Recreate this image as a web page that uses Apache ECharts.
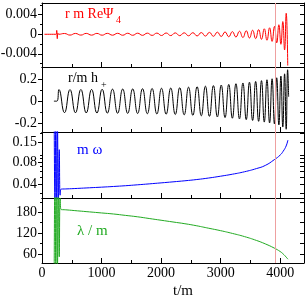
<!DOCTYPE html>
<html><head><meta charset="utf-8">
<script src="https://cdn.jsdelivr.net/npm/echarts@6/dist/echarts.min.js"></script>
<style>html,body{margin:0;padding:0;background:#fff}#c{width:306px;height:299px}</style>
</head><body><div id="c"></div>
<script>
// ---- data ----
// r/m h+ : times of extrema and values
const hT = [200, 250, 285, 378, 470, 562, 653, 743, 833, 922, 1010, 1097, 1184, 1270, 1355, 1439, 1523, 1606, 1688, 1769, 1849, 1929, 2007, 2085, 2162, 2238, 2313, 2388, 2461, 2533, 2605, 2675, 2744, 2812, 2879, 2945, 3010, 3074, 3136, 3197, 3257, 3316, 3374, 3430, 3484, 3537, 3588, 3638, 3686, 3733, 3778, 3822, 3864, 3904, 3942, 3978, 4012, 4044, 4074, 4101, 4125, 4142];
const hV = [0, 0, 0.105, -0.105, 0.105, -0.106, 0.106, -0.107, 0.107, -0.108, 0.108, -0.109, 0.109, -0.110, 0.110, -0.111, 0.111, -0.112, 0.113, -0.114, 0.115, -0.116, 0.117, -0.118, 0.119, -0.121, 0.122, -0.124, 0.127, -0.129, 0.131, -0.133, 0.136, -0.138, 0.141, -0.143, 0.146, -0.149, 0.152, -0.155, 0.158, -0.161, 0.165, -0.168, 0.172, -0.175, 0.179, -0.183, 0.186, -0.190, 0.194, -0.198, 0.203, -0.207, 0.212, -0.216, 0.228, -0.235, 0.248, -0.255, 0.285, 0.04];
// r m Re Psi4
const psiT = [40, 238, 247, 257, 267, 280, 378, 470, 562, 653, 743, 833, 922, 1010, 1097, 1184, 1270, 1355, 1439, 1523, 1606, 1688, 1769, 1849, 1929, 2007, 2085, 2162, 2238, 2313, 2388, 2461, 2533, 2605, 2675, 2744, 2812, 2879, 2945, 3010, 3074, 3136, 3197, 3257, 3316, 3374, 3430, 3484, 3537, 3588, 3638, 3686, 3733, 3778, 3822, 3864, 3904, 3942, 3978, 4012, 4044, 4074, 4101, 4127];
const psiV = [0, 0, 0.0008, -0.0009, 0.0002, 0, 0.00016, -0.00017, 0.00017, -0.00017, 0.00018, -0.00018, 0.00018, -0.00019, 0.00019, -0.00019, 0.00020, -0.00020, 0.00021, -0.00021, 0.00022, -0.00022, 0.00023, -0.00023, 0.00024, -0.00025, 0.00026, -0.00027, 0.00028, -0.00029, 0.00030, -0.00031, 0.00032, -0.00034, 0.00035, -0.00037, 0.00039, -0.00041, 0.00043, -0.00045, 0.00048, -0.00051, 0.00054, -0.00058, 0.00062, -0.00066, 0.00071, -0.00076, 0.00082, -0.00088, 0.00095, -0.00103, 0.00112, -0.00122, 0.00133, -0.00146, 0.00160, -0.00176, 0.00195, -0.00205, 0.00260, -0.00320, 0.00430, -0.0064];
// m omega
const omT = [205, 218, 232, 246, 260, 274, 290, 305, 320, 400, 600, 800, 1000, 1200, 1400, 1600, 1800, 2000, 2200, 2400, 2600, 2800, 3000, 3200, 3400, 3600, 3750, 3900, 4000, 4050, 4100, 4130];
const omV = [0.30, 0.020, 0.30, 0.020, 0.25, 0.020, 0.12, 0.028, 0.0340, 0.0342, 0.0348, 0.0355, 0.0362, 0.0370, 0.0379, 0.0390, 0.0402, 0.0415, 0.0429, 0.0444, 0.0462, 0.0485, 0.0514, 0.0548, 0.0592, 0.0655, 0.0725, 0.0870, 0.1010, 0.1140, 0.1350, 0.1630];
// lambda / m
const lamT = [205, 218, 232, 246, 260, 274, 290, 305, 320, 400, 600, 800, 1000, 1200, 1400, 1600, 1800, 2000, 2200, 2400, 2600, 2800, 3000, 3200, 3400, 3600, 3750, 3900, 4000, 4050, 4100, 4130];
const lamV = [20, 300, 20, 300, 25, 300, 52, 220, 188, 187, 184, 181, 178, 175, 171, 167, 162, 157, 152, 147, 141, 134, 127, 119, 110, 99, 89, 77, 67, 60, 51, 45];
const tMerge = 3921;
// tick values
const xLabels = [0, 1000, 2000, 3000, 4000];
const xMinor = [500, 1500, 2500, 3500];
const psiLabels = [-0.004, 0, 0.004];
const psiMinor = [-0.006, -0.002, 0.002, 0.006];
const psiRight = [-0.006, -0.004, -0.002, 0, 0.002, 0.004, 0.006];
const hLabels = [-0.2, 0, 0.2];
const hMinor = [-0.1, 0.1];
const hRight = [-0.2, -0.1, 0, 0.1, 0.2];
const omLabels = [0.04, 0.08, 0.15];
const omMinor = [0.03, 0.05, 0.06, 0.07, 0.09, 0.1, 0.2];
const omRight = [0.03, 0.04, 0.05, 0.06, 0.07, 0.08, 0.09, 0.1, 0.15, 0.2];
const lamLabels = [60, 120, 180];
const lamMinor = [90, 150, 210];
const lamRight = [60, 90, 120, 150, 180, 210];

const FONT = 'Liberation Serif';
const BLACK = '#000';
const panels = [
  { top: 3, height: 64, type: 'value', min: -0.0067, max: 0.0064, labels: psiLabels, minors: psiMinor, rights: psiRight,
    fmt: v => (Math.abs(v) < 1e-12 ? '0' : v.toFixed(3)), t: psiT, v: psiV, color: '#ff0000', smooth: true },
  { top: 67, height: 65, type: 'value', min: -0.28, max: 0.31, labels: hLabels, minors: hMinor, rights: hRight,
    fmt: v => (Math.abs(v) < 1e-12 ? '0' : v.toFixed(1)), t: hT, v: hV, color: '#000000', smooth: true },
  { top: 132, height: 66, type: 'log', min: 0.0256, max: 0.211, labels: omLabels, minors: omMinor, rights: omRight,
    fmt: v => String(+(+v).toPrecision(4)), t: omT, v: omV, color: '#0000ff', smooth: true },
  { top: 198, height: 65, type: 'value', min: 34, max: 221, labels: lamLabels, minors: lamMinor, rights: lamRight,
    fmt: v => String(Math.round(v)), t: lamT, v: lamV, color: '#22aa22', smooth: true }
];

const grid = [], xAxis = [], yAxis = [], series = [];
panels.forEach((p, i) => {
  const last = i === panels.length - 1;
  grid.push({ left: 42, right: 2, top: p.top, height: p.height, containLabel: false, outerBoundsMode: 'none', show: false });
  const xb = extra => Object.assign({ gridIndex: i, type: 'value', min: 0, max: 4400, splitLine: { show: false }, minorTick: { show: false }, minorSplitLine: { show: false } }, extra);
  xAxis.push(xb({ position: 'bottom',
    axisLine: { show: true, onZero: false, lineStyle: { color: BLACK, width: 1 } },
    axisTick: { show: true, inside: true, length: 5, customValues: xLabels, lineStyle: { color: BLACK, width: 1 } },
    axisLabel: { show: last, customValues: xLabels, formatter: v => String(Math.round(v)), margin: 3, color: BLACK, fontFamily: FONT, fontSize: 14 } }));
  xAxis.push(xb({ position: 'bottom', axisLine: { show: false, onZero: false },
    axisTick: { show: true, inside: true, length: 3, customValues: xMinor, lineStyle: { color: BLACK, width: 1 } },
    axisLabel: { show: false } }));
  xAxis.push(xb({ position: 'top', axisLine: { show: true, onZero: false, lineStyle: { color: BLACK, width: 1 } },
    axisTick: { show: false }, axisLabel: { show: false } }));
  const yb = extra => Object.assign({ gridIndex: i, type: p.type, logBase: 10, min: p.min, max: p.max, splitLine: { show: false }, minorTick: { show: false }, minorSplitLine: { show: false } }, extra);
  yAxis.push(yb({ position: 'left',
    axisLine: { show: true, onZero: false, lineStyle: { color: BLACK, width: 1 } },
    axisTick: { show: true, inside: false, length: 4, customValues: p.labels, lineStyle: { color: BLACK, width: 1 } },
    axisLabel: { show: true, customValues: p.labels, formatter: p.fmt, margin: 5, color: BLACK, fontFamily: FONT, fontSize: 14 } }));
  yAxis.push(yb({ position: 'left', axisLine: { show: false, onZero: false },
    axisTick: { show: true, inside: false, length: 2, customValues: p.minors, lineStyle: { color: BLACK, width: 1 } },
    axisLabel: { show: false } }));
  yAxis.push(yb({ position: 'right',
    axisLine: { show: true, onZero: false, lineStyle: { color: BLACK, width: 1 } },
    axisTick: { show: true, inside: true, length: 4, customValues: p.rights, lineStyle: { color: BLACK, width: 1 } },
    axisLabel: { show: false } }));
  series.push({
    type: 'line', xAxisIndex: 3 * i, yAxisIndex: 3 * i, silent: true, animation: false,
    data: p.t.map((t, j) => [t, p.v[j]]), showSymbol: false, symbol: 'none', smooth: p.smooth, clip: true,
    lineStyle: { color: p.color, width: 1 }, itemStyle: { color: p.color }, z: 3,
    markLine: { silent: true, animation: false, symbol: ['none', 'none'], label: { show: false },
      lineStyle: { color: '#eea0a0', width: 1, type: 'solid', opacity: 1 }, emphasis: { disabled: true },
      data: [{ xAxis: tMerge }] }
  });
});

const txt = (x, y, text, color, size, align) => ({ type: 'text', x: x, y: y, silent: true,
  style: { text: text, fill: color, font: size + 'px "Liberation Serif"', textAlign: align || 'left', textVerticalAlign: 'middle' } });

const chart = echarts.init(document.getElementById('c'), null, { renderer: 'canvas' });
chart.setOption({
  animation: false,
  textStyle: { fontFamily: FONT },
  grid: grid, xAxis: xAxis, yAxis: yAxis, series: series,
  graphic: [
    txt(65, 14, 'r m ReΨ', '#ff0000', 14),
    txt(116, 20, '4', '#ff0000', 10),
    txt(68, 78, 'r/m h', '#000', 14),
    txt(101, 85, '+', '#000', 10),
    txt(77, 150, 'm ω', '#0000ff', 15),
    txt(77, 231, 'λ / m', '#22aa22', 15),
    txt(183, 291, 't/m', '#000', 15, 'center')
  ]
});
</script></body></html>
